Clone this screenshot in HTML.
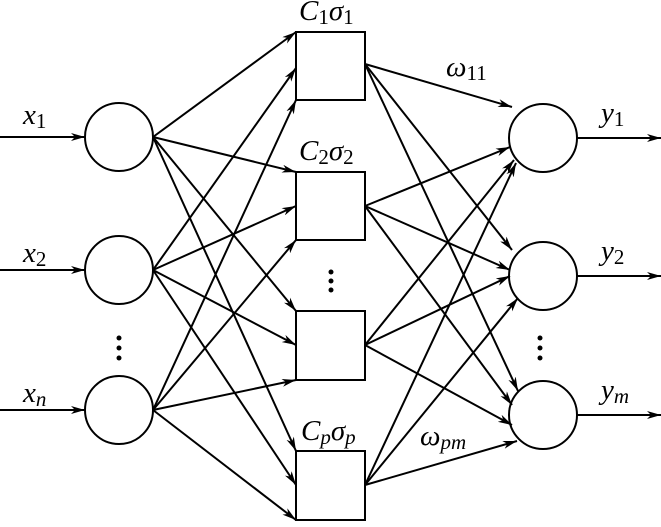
<!DOCTYPE html>
<html><head><meta charset="utf-8"><style>
body{margin:0;background:#fff}
text{font-family:"Liberation Serif",serif;font-style:italic;fill:#000}
</style></head><body>
<svg width="661" height="522" viewBox="0 0 661 522" xmlns="http://www.w3.org/2000/svg">
<defs><marker id="a" viewBox="0 0 14 8" refX="14" refY="4" markerWidth="14" markerHeight="8" markerUnits="userSpaceOnUse" orient="auto"><path d="M0,0 L14,4 L0,8 L4,4 Z" fill="#000"/></marker></defs>
<g stroke="#000" stroke-width="2" fill="none">
<circle cx="119" cy="137" r="34"/><circle cx="119" cy="270" r="34"/><circle cx="119" cy="410" r="34"/>
<rect x="296" y="32" width="69" height="68"/><rect x="296" y="172" width="69" height="68"/>
<rect x="296" y="311" width="69" height="69"/><rect x="296" y="451" width="69" height="69"/>
<circle cx="543" cy="138" r="34"/><circle cx="543" cy="276" r="34"/><circle cx="543" cy="415" r="34"/>
</g>
<g stroke="#000" stroke-width="2" marker-end="url(#a)">
<line x1="0" y1="137" x2="85" y2="137"/><line x1="0" y1="270" x2="85" y2="270"/><line x1="0" y1="410" x2="85" y2="410"/>
<line x1="577" y1="138" x2="661" y2="138"/><line x1="577" y1="276" x2="661" y2="276"/><line x1="577" y1="415" x2="661" y2="415"/>
<line x1="153" y1="137" x2="296" y2="32"/><line x1="153" y1="137" x2="296" y2="172"/><line x1="153" y1="137" x2="296" y2="311"/><line x1="153" y1="137" x2="296" y2="451"/>
<line x1="153" y1="270" x2="296" y2="68"/><line x1="153" y1="270" x2="296" y2="206"/><line x1="153" y1="270" x2="296" y2="345"/><line x1="153" y1="270" x2="296" y2="485"/>
<line x1="153" y1="410" x2="296" y2="100"/><line x1="153" y1="410" x2="296" y2="240"/><line x1="153" y1="410" x2="296" y2="380"/><line x1="153" y1="410" x2="296" y2="520"/>
<line x1="365" y1="64" x2="512" y2="107"/><line x1="365" y1="64" x2="512" y2="250"/><line x1="365" y1="64" x2="518" y2="391"/>
<line x1="365" y1="206" x2="510" y2="147"/><line x1="365" y1="206" x2="510" y2="270"/><line x1="365" y1="206" x2="512" y2="405"/>
<line x1="365" y1="345" x2="514" y2="160"/><line x1="365" y1="345" x2="510" y2="276"/><line x1="365" y1="345" x2="512" y2="425"/>
<line x1="365" y1="485" x2="516" y2="163"/><line x1="365" y1="485" x2="518" y2="298"/><line x1="365" y1="485" x2="517" y2="441"/>
</g>
<g fill="#000"><circle cx="119" cy="338" r="2.5"/><circle cx="119" cy="348" r="2.5"/><circle cx="119" cy="358" r="2.5"/>
<circle cx="331" cy="272" r="2.5"/><circle cx="331" cy="281" r="2.5"/><circle cx="331" cy="290" r="2.5"/>
<circle cx="540" cy="338" r="2.5"/><circle cx="540" cy="348" r="2.5"/><circle cx="540" cy="358" r="2.5"/></g>
<g font-size="29">
<text x="23" y="124">x<tspan font-size="21" font-style="normal" dy="4">1</tspan></text>
<text x="23" y="262">x<tspan font-size="21" font-style="normal" dy="4">2</tspan></text>
<text x="23" y="402">x<tspan font-size="21" dy="4">n</tspan></text>
<text x="601" y="122">y<tspan font-size="21" font-style="normal" dy="4">1</tspan></text>
<text x="601" y="260">y<tspan font-size="21" font-style="normal" dy="4">2</tspan></text>
<text x="601" y="399">y<tspan font-size="21" dy="4">m</tspan></text>
<text x="299" y="20">C<tspan font-size="21" font-style="normal" dy="4">1</tspan><tspan dy="-4">σ</tspan><tspan font-size="21" font-style="normal" dy="4">1</tspan></text>
<text x="299" y="160">C<tspan font-size="21" font-style="normal" dy="4">2</tspan><tspan dy="-4">σ</tspan><tspan font-size="21" font-style="normal" dy="4">2</tspan></text>
<text x="301" y="440">C<tspan font-size="21" dy="4">p</tspan><tspan dy="-4">σ</tspan><tspan font-size="21" dy="4">p</tspan></text>
<text x="446" y="76">ω<tspan font-size="21" font-style="normal" dy="4">11</tspan></text>
<text x="420" y="445">ω<tspan font-size="21" dy="4">pm</tspan></text>
</g>
</svg>
</body></html>
